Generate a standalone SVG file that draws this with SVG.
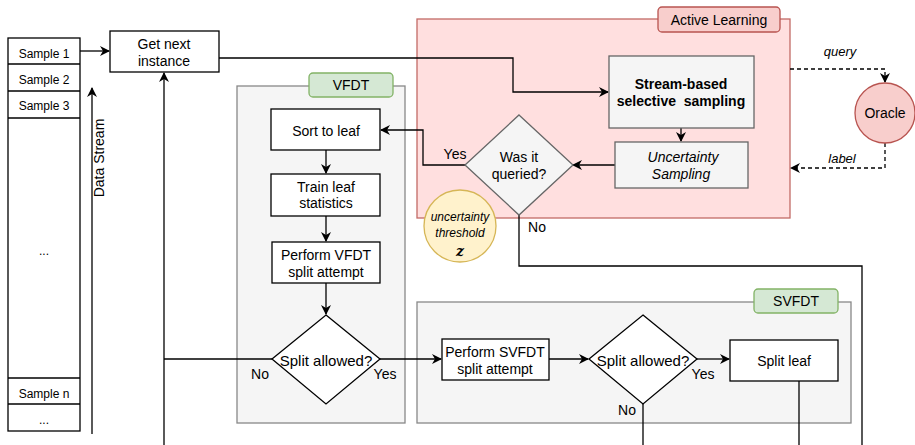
<svg xmlns="http://www.w3.org/2000/svg" width="915" height="445" viewBox="0 0 915 445">
<defs>
<marker id="ah" viewBox="0 0 10 10" refX="9" refY="5" markerWidth="10" markerHeight="10" markerUnits="userSpaceOnUse" orient="auto">
<path d="M0,0 L10,5 L0,10 L3,5 Z" fill="#000"/>
</marker>
</defs>
<style>
text{font-family:"Liberation Sans",Arial,sans-serif;fill:#000;text-anchor:middle;font-size:14px;}
.box{fill:#fff;stroke:#000;stroke-width:1.3;}
.gbox{fill:#f5f5f5;stroke:#666;stroke-width:1.3;}
.cont{fill:#f5f5f5;stroke:#888;stroke-width:1.3;}
.tab{fill:#d5e8d4;stroke:#82b366;stroke-width:1.3;}
.red{fill:#f8cecc;stroke:#b85450;stroke-width:1.3;}
.line{fill:none;stroke:#000;stroke-width:1.3;}
.dash{fill:none;stroke:#000;stroke-width:1.3;stroke-dasharray:4 3;}
.s{font-size:12px;}
.q{font-size:13px;font-style:italic;}
.d{font-size:15px;}
.i{font-style:italic;}
</style>
<g id="stream">
<rect class="box" x="8" y="38" width="72" height="393"/>
<line class="line" x1="8" y1="64" x2="80" y2="64"/>
<line class="line" x1="8" y1="91" x2="80" y2="91"/>
<line class="line" x1="8" y1="118" x2="80" y2="118"/>
<line class="line" x1="8" y1="378" x2="80" y2="378"/>
<line class="line" x1="8" y1="404" x2="80" y2="404"/>
<text class="s" x="44" y="58">Sample 1</text>
<text class="s" x="44" y="84">Sample 2</text>
<text class="s" x="44" y="110">Sample 3</text>
<text class="s" x="44" y="255">...</text>
<text class="s" x="44" y="398">Sample n</text>
<text class="s" x="44" y="424">...</text>
</g>
<g id="active-learning">
<rect x="417" y="19" width="373" height="199" fill="#ffdfdf" stroke="#c26a66" stroke-width="1.3"/>
<rect class="red" x="658" y="7" width="122" height="25" rx="4"/>
<text x="719" y="25">Active Learning</text>
</g>
<g id="vfdt">
<rect class="cont" x="237" y="86" width="168" height="337"/>
<rect class="tab" x="309" y="73" width="84" height="24" rx="4"/>
<text x="351" y="90">VFDT</text>
</g>
<g id="svfdt">
<rect class="cont" x="417" y="302" width="434" height="121"/>
<rect class="tab" x="754" y="289" width="84" height="24" rx="4"/>
<text x="796" y="306">SVFDT</text>
</g>
<g id="connectors">
<line class="line" x1="80" y1="51" x2="109" y2="51" marker-end="url(#ah)"/>
<line class="line" x1="92" y1="434" x2="92" y2="88" marker-end="url(#ah)"/>
<line class="line" x1="164" y1="445" x2="164" y2="73" marker-end="url(#ah)"/>
<line class="line" x1="272" y1="359" x2="164" y2="359"/>
<polyline class="line" points="219,58 513,58 513,92 608,92" marker-end="url(#ah)"/>
<line class="line" x1="681" y1="128" x2="681" y2="141" marker-end="url(#ah)"/>
<line class="line" x1="615" y1="165" x2="573" y2="165" marker-end="url(#ah)"/>
<polyline class="line" points="465,165 423,165 423,130 381,130" marker-end="url(#ah)"/>
<polyline class="line" points="519,215 519,266 862,266 862,445"/>
<polyline class="dash" points="790,69 885,69 885,82" marker-end="url(#ah)"/>
<polyline class="dash" points="885,143 885,168 791,168" marker-end="url(#ah)"/>
<line class="line" x1="326" y1="150" x2="326" y2="173" marker-end="url(#ah)"/>
<line class="line" x1="326" y1="216" x2="326" y2="241" marker-end="url(#ah)"/>
<line class="line" x1="326" y1="283" x2="326" y2="314" marker-end="url(#ah)"/>
<line class="line" x1="380" y1="359" x2="441" y2="359" marker-end="url(#ah)"/>
<line class="line" x1="549" y1="359" x2="588" y2="359" marker-end="url(#ah)"/>
<line class="line" x1="697" y1="359" x2="729" y2="359" marker-end="url(#ah)"/>
<line class="line" x1="643" y1="404" x2="643" y2="445"/>
<line class="line" x1="799" y1="381" x2="799" y2="445"/>
<text x="455" y="159">Yes</text>
<text x="537" y="232">No</text>
<text class="q" x="840" y="56">query</text>
<text class="q" x="842" y="163">label</text>
<text x="260" y="379">No</text>
<text x="385" y="379">Yes</text>
<text x="703" y="379">Yes</text>
<text x="627" y="415">No</text>
</g>
<g id="data-stream-label">
<text transform="translate(104,158) rotate(-90)">Data Stream</text>
</g>
<g id="get-next">
<rect class="box" x="110" y="31" width="109" height="41"/>
<text x="164" y="49">Get next</text>
<text x="164" y="66">instance</text>
</g>
<g id="stream-based">
<rect class="gbox" x="609" y="56" width="145" height="72"/>
<text x="681" y="89" font-weight="bold">Stream-based</text>
<text x="681" y="106" font-weight="bold" xml:space="preserve">selective  sampling</text>
</g>
<g id="uncertainty-sampling">
<rect class="gbox" x="615" y="142" width="133" height="46"/>
<text class="i" x="683" y="162">Uncertainty</text>
<text class="i" x="681" y="179">Sampling</text>
</g>
<g id="was-queried">
<polygon class="gbox" points="519,115 573,165 519,215 465,165"/>
<text x="519" y="162">Was it</text>
<text x="519" y="179">queried?</text>
</g>
<g id="oracle">
<circle class="red" cx="885" cy="113" r="30"/>
<text x="885" y="118">Oracle</text>
</g>
<g id="threshold">
<circle cx="460" cy="226" r="36" fill="#fff2cc" stroke="#d6b656" stroke-width="1.3"/>
<text class="s i" x="460" y="221">uncertainty</text>
<text class="s i" x="460" y="237">threshold</text>
<text x="460" y="256" font-size="19" font-weight="bold" font-style="italic" style="font-family:'DejaVu Serif',serif">z</text>
</g>
<g id="sort-leaf">
<rect class="box" x="271" y="109" width="109" height="41"/>
<text x="326" y="136">Sort to leaf</text>
</g>
<g id="train-leaf">
<rect class="box" x="271" y="174" width="109" height="42"/>
<text x="326" y="192">Train leaf</text>
<text x="326" y="208">statistics</text>
</g>
<g id="vfdt-split">
<rect class="box" x="272" y="242" width="108" height="41"/>
<text x="326" y="260">Perform VFDT</text>
<text x="326" y="277">split attempt</text>
</g>
<g id="vfdt-allowed">
<polygon class="box" points="326,315 380,359 326,404 272,359"/>
<text class="d" x="326" y="366">Split allowed?</text>
</g>
<g id="svfdt-split">
<rect class="box" x="442" y="339" width="107" height="41"/>
<text x="495" y="357">Perform SVFDT</text>
<text x="495" y="374">split attempt</text>
</g>
<g id="svfdt-allowed">
<polygon class="box" points="643,315 697,359 643,404 589,359"/>
<text class="d" x="643" y="366">Split allowed?</text>
</g>
<g id="split-leaf">
<rect class="box" x="730" y="340" width="108" height="41"/>
<text x="784" y="366">Split leaf</text>
</g>
</svg>
